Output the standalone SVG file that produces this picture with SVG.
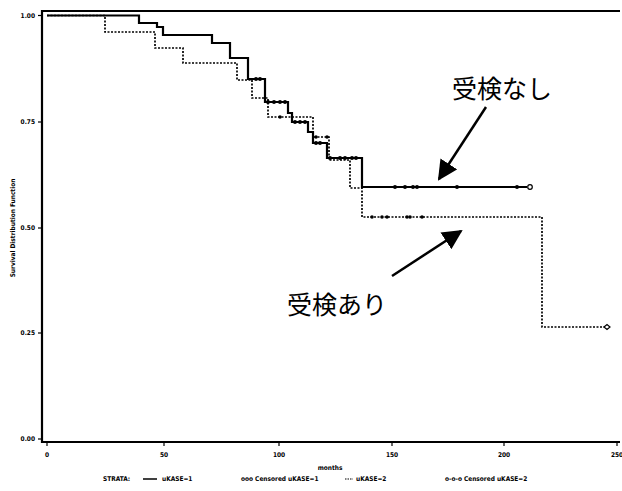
<svg xmlns="http://www.w3.org/2000/svg" width="622" height="491" viewBox="0 0 622 491">
<style>
.ax{stroke:#000;stroke-width:2.2;fill:none}
.tk{stroke:#000;stroke-width:1.2}
.sm{font-family:"DejaVu Sans Condensed","Liberation Sans",sans-serif;font-weight:bold;font-size:6.5px;fill:#000}
.s1{stroke:#000;stroke-width:2.2;fill:none}
.s2{stroke:#000;stroke-width:1.7;fill:none;stroke-dasharray:2 1.5}
.jp{font-family:"Noto Sans CJK JP","Noto Sans",sans-serif;font-size:25px;fill:#000}
.arr{stroke:#000;stroke-width:2.5;fill:none}
</style>
<defs>
<marker id="ah" viewBox="0 0 10 10" refX="9" refY="5" markerWidth="8" markerHeight="8" markerUnits="strokeWidth" orient="auto">
<path d="M0,0 L10,5 L0,10 Z" fill="#000"/>
</marker>
</defs>
<rect width="622" height="491" fill="#fff"/>
<g id="axes">
<path class="ax" d="M620,11 H42 V442 H620"/>
<g class="tk">
<line x1="38" y1="15.5" x2="42" y2="15.5"/>
<line x1="38" y1="122" x2="42" y2="122"/>
<line x1="38" y1="228" x2="42" y2="228"/>
<line x1="38" y1="333" x2="42" y2="333"/>
<line x1="38" y1="439" x2="42" y2="439"/>
<line x1="47" y1="442" x2="47" y2="446"/>
<line x1="164" y1="442" x2="164" y2="446"/>
<line x1="279" y1="442" x2="279" y2="446"/>
<line x1="392" y1="442" x2="392" y2="446"/>
<line x1="504" y1="442" x2="504" y2="446"/>
<line x1="617" y1="442" x2="617" y2="446"/>
</g>
<g class="sm" text-anchor="end">
<text x="35" y="18">1.00</text>
<text x="35" y="124">0.75</text>
<text x="35" y="230">0.50</text>
<text x="35" y="335">0.25</text>
<text x="35" y="441">0.00</text>
</g>
<g class="sm" text-anchor="middle">
<text x="47" y="457">0</text>
<text x="164" y="457">50</text>
<text x="279" y="457">100</text>
<text x="392" y="457">150</text>
<text x="504" y="457">200</text>
<text x="617" y="457">250</text>
<text x="330" y="470">months</text>
<text transform="translate(15,228) rotate(-90)">Survival Distribution Function</text>
</g>
</g>
<g id="curves">
<path id="kase1" class="s1" d="M47,15.5 H139 V23 H157 V27 H163 V35 H212 V43 H230 V58 H248 V79 H265 V102 H288 V113 H292 V122 H308 V132 H313 V143 H327 V158 H362 V187 H527"/>
<path id="kase2" class="s2" d="M47,15.5 H105 V32 H155 V48 H183 V63 H237 V80 H252 V98 H268 V117 H313 V137 H329 V160 H350 V188 H362 V217 H542 V327 H605"/>
<g id="cens1" fill="#000">
<circle cx="256" cy="79" r="2"/><circle cx="260" cy="79" r="2"/>
<circle cx="268" cy="102" r="2"/><circle cx="274" cy="102" r="2"/><circle cx="280" cy="102" r="2"/><circle cx="285" cy="102" r="2"/>
<circle cx="295" cy="122" r="2"/><circle cx="300" cy="122" r="2"/><circle cx="305" cy="122" r="2"/>
<circle cx="316" cy="143" r="2"/><circle cx="320" cy="143" r="2"/>
<circle cx="330" cy="158" r="2"/><circle cx="340" cy="158" r="2"/><circle cx="345" cy="158" r="2"/><circle cx="352" cy="158" r="2"/><circle cx="356" cy="158" r="2"/>
<circle cx="395" cy="187" r="2"/><circle cx="405" cy="187" r="2"/><circle cx="413" cy="187" r="2"/><circle cx="417" cy="187" r="2"/><circle cx="457" cy="187" r="2"/><circle cx="517" cy="187" r="2"/>
<circle cx="530" cy="187" r="2.3" fill="#fff" stroke="#000" stroke-width="1.2"/>
</g>
<g id="cens2" fill="#000">
<circle cx="280" cy="117" r="1.8"/>
<circle cx="316" cy="137" r="1.8"/><circle cx="327" cy="137" r="1.8"/>
<circle cx="372" cy="217" r="1.8"/><circle cx="382" cy="217" r="1.8"/><circle cx="387" cy="217" r="1.8"/><circle cx="407" cy="217" r="1.8"/><circle cx="410" cy="217" r="1.8"/><circle cx="422" cy="217" r="1.8"/>
<path d="M604,327 L607,324.5 L610,327 L607,329.5 Z" fill="#fff" stroke="#000" stroke-width="1.2"/>
</g>
</g>
<g id="label-nashi">
<text class="jp" x="452" y="98">受検なし</text>
</g>
<g id="label-ari">
<text class="jp" x="287" y="314">受検あり</text>
</g>
<g id="connectors">
<line class="arr" x1="486" y1="107" x2="439" y2="179" marker-end="url(#ah)"/>
<line class="arr" x1="392" y1="276" x2="461" y2="231" marker-end="url(#ah)"/>
</g>
<g id="legend" class="sm">
<text x="103" y="481">STRATA:</text>
<line x1="143" y1="479" x2="157" y2="479" stroke="#000" stroke-width="1.5"/>
<text x="162" y="481">uKASE=1</text>
<text x="241" y="481">ooo Censored uKASE=1</text>
<line x1="345" y1="479" x2="353" y2="479" stroke="#000" stroke-width="1.2" stroke-dasharray="1.5 1"/>
<text x="356" y="481">uKASE=2</text>
<text x="445" y="481">o-o-o Censored uKASE=2</text>
</g>
</svg>
